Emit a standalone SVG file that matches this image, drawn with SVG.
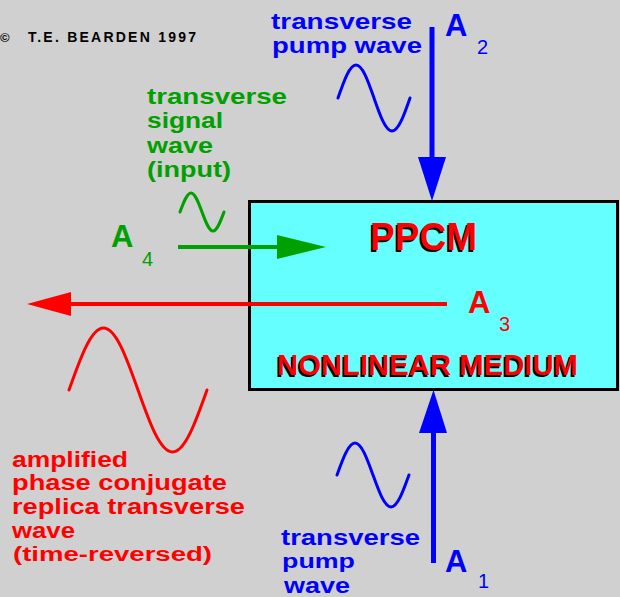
<svg xmlns="http://www.w3.org/2000/svg" width="620" height="597" viewBox="0 0 620 597">
<style>
text{font-family:"Liberation Sans",Arial,sans-serif;font-weight:bold}
.blue{fill:#0000FF}
.green{fill:#00A000}
.red{fill:#FF0000}
.lbl{font-size:22px}
.sm{font-size:20px}
.a{font-size:31px}
.sub{font-size:20px;font-weight:normal}
.wave{fill:none;stroke-width:3;stroke-linecap:round;stroke-linejoin:round}
.shadow{fill:#000000}
</style>
<rect x="0" y="0" width="620" height="597" fill="#D0D0D0"/>

<g id="copyright">
<text font-size="14" fill="#000000" font-weight="normal"><tspan x="0" y="42" font-size="13">©</tspan><tspan x="28" y="42" font-weight="bold" textLength="168" lengthAdjust="spacing">T.E. BEARDEN 1997</tspan></text>
</g>

<g id="ppcm">
<rect x="249.5" y="201.5" width="368" height="188" fill="#66FFFF" stroke="#000000" stroke-width="3"/>
<text class="shadow" x="368.5" y="251.5" font-size="38" textLength="107" lengthAdjust="spacingAndGlyphs">PPCM</text>
<text class="red" x="370" y="250" font-size="38" textLength="107" lengthAdjust="spacingAndGlyphs">PPCM</text>
<text class="shadow" x="275.5" y="376.5" font-size="29" textLength="301" lengthAdjust="spacingAndGlyphs">NONLINEAR MEDIUM</text>
<text class="red" x="277" y="375" font-size="29" textLength="301" lengthAdjust="spacingAndGlyphs">NONLINEAR MEDIUM</text>
</g>

<g id="pump-top">
<text class="blue lbl" x="271" y="29" textLength="141" lengthAdjust="spacingAndGlyphs">transverse</text>
<text class="blue lbl" x="272" y="53" textLength="150" lengthAdjust="spacingAndGlyphs">pump wave</text>
<path class="wave" stroke="#0000FF" d="M338,98 C343.9,81.1 349.5,65 356,65 C362.5,65 368.1,81.1 374,98 C379.9,114.9 385.5,131 392,131 C398.5,131 404.1,114.9 410,98"/>
<text class="blue a" x="445" y="36">A</text>
<text class="blue sub" x="477" y="54">2</text>
</g>

<g id="signal">
<text class="green lbl" x="147" y="104" textLength="140" lengthAdjust="spacingAndGlyphs">transverse</text>
<text class="green lbl" x="147" y="128" textLength="76" lengthAdjust="spacingAndGlyphs">signal</text>
<text class="green lbl" x="147" y="153" textLength="66" lengthAdjust="spacingAndGlyphs">wave</text>
<text class="green lbl" x="147" y="177" textLength="84" lengthAdjust="spacingAndGlyphs">(input)</text>
<path class="wave" stroke="#00A000" d="M180,212 C183.6,202.3 187,193 191,193 C195,193 198.4,202.3 202,212 C205.6,221.7 209,231 213,231 C217,231 220.4,221.7 224,212"/>
<text class="green a" x="111" y="247">A</text>
<text class="green sub" x="142" y="266">4</text>
</g>

<g id="conjugate">
<text class="red a" x="468" y="313">A</text>
<text class="red sub" x="499" y="331">3</text>
<path class="wave" stroke="#FF0000" d="M69,390 C80.26,358.2 91,328 103.5,328 C116,328 126.74,358.2 138,390 C149.26,421.8 160,452 172.5,452 C185,452 195.74,421.8 207,390"/>
<text class="red lbl" x="12" y="467" textLength="116" lengthAdjust="spacingAndGlyphs">amplified</text>
<text class="red lbl" x="12" y="490" textLength="215" lengthAdjust="spacingAndGlyphs">phase conjugate</text>
<text class="red lbl" x="12" y="514" textLength="233" lengthAdjust="spacingAndGlyphs">replica transverse</text>
<text class="red lbl" x="12" y="538" textLength="63" lengthAdjust="spacingAndGlyphs">wave</text>
<text class="red lbl sm" x="13" y="561" textLength="199" lengthAdjust="spacingAndGlyphs">(time-reversed)</text>
</g>

<g id="pump-bottom">
<path class="wave" stroke="#0000FF" d="M337,475 C342.9,458.6 348.5,443 355,443 C361.5,443 367.1,458.6 373,475 C378.9,491.4 384.5,507 391,507 C397.5,507 403.1,491.4 409,475"/>
<text class="blue lbl" x="281" y="545" textLength="139" lengthAdjust="spacingAndGlyphs">transverse</text>
<text class="blue lbl sm" x="282" y="568" textLength="73" lengthAdjust="spacingAndGlyphs">pump</text>
<text class="blue lbl" x="284" y="593" textLength="66" lengthAdjust="spacingAndGlyphs">wave</text>
<text class="blue a" x="445" y="572">A</text>
<text class="blue sub" x="478" y="588">1</text>
</g>

<g id="connectors">
<line x1="432" y1="27" x2="432" y2="160" stroke="#0000FF" stroke-width="5"/>
<polygon points="418,157 446,157 432,201" fill="#0000FF"/>
<line x1="433.5" y1="563" x2="433.5" y2="428" stroke="#0000FF" stroke-width="5"/>
<polygon points="419,433 447,433 433.5,390" fill="#0000FF"/>
<line x1="178" y1="247" x2="280" y2="247" stroke="#00A000" stroke-width="4"/>
<polygon points="277,235 277,259 326,247" fill="#00A000"/>
<line x1="447" y1="304" x2="68" y2="304" stroke="#FF0000" stroke-width="4"/>
<polygon points="71,292 71,316 27,304" fill="#FF0000"/>
</g>
</svg>
